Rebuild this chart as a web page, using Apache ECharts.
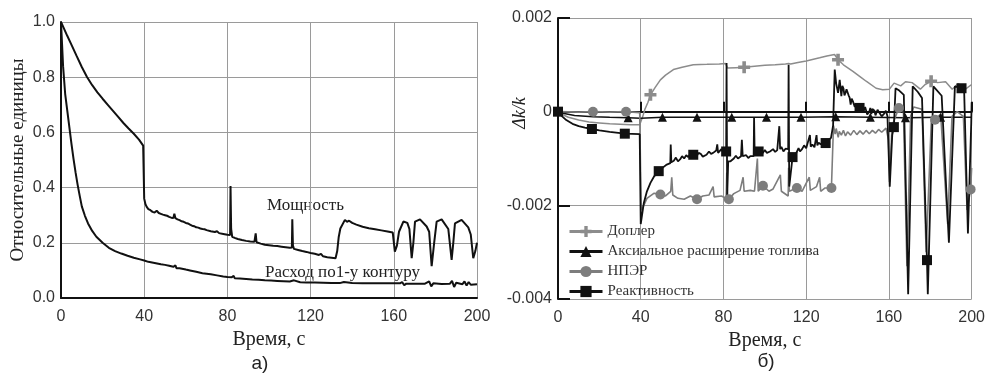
<!DOCTYPE html>
<html><head><meta charset="utf-8">
<script src="https://cdn.jsdelivr.net/npm/echarts@6/dist/echarts.min.js"></script>
<style>html,body{margin:0;padding:0;background:#fff}#c{width:988px;height:376px}</style>
</head><body><div id="c"></div>
<script>
// ---------- Panel a) ----------
const powerData = [[0,1.0],[1.5,0.975],[3,0.95],[5,0.918],[7.5,0.877],[10,0.837],[12.5,0.801],[15,0.771],[17.5,0.745],[20,0.722],[22.5,0.7],[25,0.678],[27.5,0.656],[30,0.634],[32.5,0.614],[35,0.595],[37.5,0.574],[39.5,0.552],
[40,0.36],[40.6,0.34],[41.2,0.33],[42,0.322],[43,0.318],[44,0.312],[45,0.31],[46,0.316],[47,0.308],[48,0.305],[49,0.302],[50,0.3],[51,0.298],[52,0.294],[53,0.291],[54,0.29],[54.5,0.305],[55,0.289],[56,0.285],[57,0.282],[58,0.278],[59,0.276],[60,0.272],[61,0.27],[62,0.266],[63,0.262],[64,0.26],[65,0.256],[66,0.255],[67,0.252],[68,0.25],[69,0.249],[70,0.246],[72,0.242],[74,0.239],[75,0.242],[76,0.235],[78,0.232],[80,0.229],[81.3,0.228],[81.5,0.406],[81.8,0.25],[82.3,0.222],[83.5,0.218],[85,0.214],[87,0.21],[89,0.207],[91,0.205],[93,0.204],[93.6,0.234],[94,0.202],[96,0.197],[98,0.193],[100,0.191],[102,0.189],[104,0.188],[106,0.186],[108,0.184],[110,0.182],[111,0.183],[111.2,0.285],[111.5,0.19],[112,0.178],[114,0.174],[116,0.17],[118,0.167],[120,0.163],[122,0.16],[124,0.156],[125,0.16],[126,0.151],[128,0.148],[130,0.146],[132,0.144],[132.8,0.17],[133.5,0.22],[134.3,0.252],[135,0.258],[136.5,0.283],[137.5,0.276],[138.5,0.28],[140,0.272],[142,0.266],[145,0.258],[148,0.253],[151,0.249],[154,0.245],[157,0.241],[159.5,0.237],[160.5,0.168],[161.5,0.19],[162.5,0.24],[164.6,0.277],[166.5,0.272],[167.5,0.25],[168.6,0.144],[169.4,0.2],[170.2,0.277],[172.6,0.285],[175.8,0.259],[177,0.24],[178.2,0.115],[179.4,0.2],[180.6,0.277],[183,0.285],[186.2,0.25],[187.8,0.138],[188.6,0.2],[189.4,0.27],[192.6,0.283],[195.8,0.256],[197,0.23],[198.2,0.144],[199.2,0.17],[200,0.2]];

const flowData = [[0,1.0],[0.5,0.92],[1,0.84],[2,0.74],[3,0.68],[4,0.62],[5,0.56],[6,0.505],[7,0.455],[8,0.41],[9,0.37],[10,0.332],[11.5,0.298],[13,0.27],[15,0.243],[17,0.222],[20,0.2],[23,0.182],[26,0.17],[29,0.161],[32,0.153],[35,0.146],[38,0.14],[40,0.136],[42,0.131],[45,0.127],[48,0.122],[50,0.12],[52,0.117],[54,0.113],[55,0.118],[55.5,0.108],[57,0.108],[60,0.103],[62,0.1],[65,0.095],[68,0.09],[70,0.088],[72,0.086],[75,0.082],[78,0.078],[80,0.076],[82,0.075],[83,0.08],[83.5,0.072],[86,0.071],[89,0.069],[92,0.067],[95,0.066],[98,0.064],[101,0.063],[104,0.062],[107,0.061],[110,0.06],[112,0.064],[112.5,0.058],[115,0.057],[118,0.056],[122,0.056],[126,0.055],[130,0.054],[134,0.054],[136,0.058],[136.5,0.053],[140,0.054],[145,0.053],[150,0.053],[155,0.053],[160,0.053],[163,0.053],[164,0.058],[165,0.046],[166,0.052],[170,0.052],[175,0.052],[177,0.06],[178,0.042],[179,0.053],[183,0.051],[187,0.052],[188,0.062],[189,0.04],[190,0.055],[193,0.05],[194,0.06],[195,0.045],[196,0.058],[197,0.048],[200,0.05]];

// ---------- Panel б) ----------
const dopplerData = [[0,0],[2,-0.00006],[5,-0.00012],[10,-0.00018],[15,-0.00022],[20,-0.00024],[25,-0.00026],[30,-0.00027],[35,-0.00028],[39.5,-0.00028],[41,-0.0001],[42,0.00005],[43.5,0.0002],[44.7,0.00036],[47,0.00052],[49.5,0.00068],[52,0.00078],[55.8,0.0009],[60,0.00095],[65.4,0.001],[72,0.00101],[78,0.00102],[81,0.00103],[82,0.00093],[86,0.00094],[90,0.00095],[95,0.00097],[100,0.00099],[105,0.001],[110,0.00102],[111.5,0.00103],[112.5,0.00102],[116,0.00105],[120,0.00108],[126.5,0.00115],[130,0.00119],[133.7,0.00122],[135.4,0.00111],[138,0.001],[142.6,0.00086],[146,0.00075],[149,0.00065],[153.8,0.0005],[157,0.00047],[160.2,0.00048],[162.5,0.00061],[165.7,0.00055],[168,0.00064],[171.2,0.00062],[175.2,0.00048],[177.5,0.00058],[180.4,0.00065],[183.5,0.00062],[187.4,0.00064],[190.6,0.00048],[193.5,0.0006],[197,0.00048],[200,0.00058]];

const axialData = [[0,0],[3,-0.00004],[8,-0.00008],[16.9,-0.00011],[25,-0.00012],[33.9,-0.00013],[40,-0.00014],[50.5,-0.00012],[67.2,-0.00012],[84,-0.00012],[100.8,-0.00012],[117.5,-0.00012],[134.3,-0.00011],[151,-0.00012],[168,-0.00013],[185,-0.00012],[200,-0.00012]];

const nperData = [[0,0],[10,-0.00001],[16.9,0],[25,-0.00001],[32.9,0],[39.5,-0.00002],[40.2,-0.0021],[41.5,-0.002],[43,-0.00185],[46.5,-0.00174],[49.5,-0.00177],[52,-0.0018],[54.5,-0.0017],[55,-0.0014],[55.5,-0.00178],[58,-0.00185],[61,-0.00187],[64,-0.0018],[67.2,-0.00187],[70,-0.0018],[73,-0.00178],[75,-0.0016],[75.5,-0.00182],[79,-0.0018],[81.3,-0.00185],[81.6,-0.0013],[82,-0.0019],[82.6,-0.00187],[85,-0.00175],[88,-0.00168],[89.5,-0.0014],[90,-0.0017],[93,-0.00168],[95,-0.0017],[96.4,-0.001],[96.8,-0.0017],[99.1,-0.00158],[102,-0.0017],[104,-0.00165],[107.5,-0.00135],[108,-0.0017],[111.3,-0.0018],[111.5,-0.0012],[111.8,-0.0017],[115.5,-0.00163],[118,-0.0017],[121.5,-0.0014],[122,-0.00168],[125,-0.0016],[126.5,-0.0014],[127,-0.0017],[129,-0.00163],[132.2,-0.00163],[133.2,-0.0003],[134,-0.00048],[134.5,-0.00036],[135.5,-0.00055],[136,-0.00042],[137,-0.0005],[138,-0.0004],[139,-0.00052],[140,-0.00043],[141.5,-0.0005],[143,-0.0004],[144.5,-0.00049],[146,-0.00041],[147.5,-0.00048],[149,-0.0004],[150.5,-0.00047],[152,-0.0004],[153.5,-0.00046],[155,-0.00038],[156.5,-0.00044],[158.6,-0.00035],[159.8,-0.0006],[160.3,-0.0015],[161.5,-0.0003],[164.8,0.00008],[167,0.00002],[168.7,-0.0033],[170.5,-0.0001],[172,0.0001],[176,0.00005],[178,-0.003],[180.5,-0.0002],[182.3,-0.00017],[185,-0.00005],[188.4,-0.0024],[190.5,-0.0001],[193,0],[196,-0.0001],[197.8,-0.0021],[199.5,-0.00166],[200,-0.0012]];

const reactData = [[0,0],[2,-0.0001],[4,-0.00018],[7,-0.00026],[10,-0.00031],[13,-0.00034],[16.4,-0.00037],[20,-0.0004],[25,-0.00043],[32.3,-0.00047],[39.5,-0.00048],[40,-0.0024],[41.5,-0.00195],[43,-0.0017],[44.7,-0.00152],[46.5,-0.00138],[48.7,-0.00127],[50.5,-0.0012],[52.6,-0.00113],[54.3,-0.0011],[54.5,-0.0007],[54.8,-0.00108],[56,-0.00105],[57,-0.00098],[58,-0.00106],[59,-0.00102],[60,-0.00095],[61,-0.001],[62,-0.00093],[63,-0.00097],[64,-0.0009],[65.4,-0.00092],[67,-0.00095],[68,-0.00088],[69,-0.0009],[70,-0.00096],[71.8,-0.00092],[73,-0.00085],[74,-0.0009],[75,-0.00088],[76.5,-0.00083],[77,-0.0007],[77.4,-0.00088],[78,-0.00086],[79,-0.0008],[80,-0.00088],[81.3,-0.00085],[81.5,0.00104],[81.8,-0.0018],[82.3,-0.00106],[83.4,-0.00106],[85,-0.001],[86,-0.00094],[87,-0.001],[88.5,-0.00095],[88.9,-0.0006],[89.3,-0.00095],[91,-0.00093],[92,-0.00099],[93,-0.00095],[94.6,-0.00095],[94.8,-0.00013],[95.1,-0.00092],[96,-0.00088],[97,-0.00085],[98,-0.00092],[99,-0.00088],[100,-0.00082],[101,-0.00088],[102.5,-0.00085],[104,-0.0008],[105,-0.00086],[106,-0.00082],[107,-0.00031],[107.4,-0.0008],[108,-0.00075],[109,-0.00085],[110,-0.00079],[111.3,-0.0008],[111.5,0.001],[111.8,-0.0016],[113.4,-0.00097],[115,-0.0009],[116.3,-0.00078],[117,-0.00085],[118,-0.0008],[119,-0.00072],[120,-0.00078],[121.8,-0.0005],[122.2,-0.00075],[123,-0.0007],[124,-0.00076],[125,-0.0005],[125.4,-0.00072],[126,-0.00066],[127,-0.0007],[128,-0.00064],[129.4,-0.00067],[131,-0.0006],[132,-0.00056],[133,-0.0003],[133.8,0.0009],[134.5,0.0006],[135.4,0.0004],[136.2,0.00068],[137,0.00033],[137.5,0.00055],[138,0.0005],[138.5,0.00035],[139,0.0004],[139.5,0.00048],[140.5,0.00035],[141,0.0003],[141.5,0.00015],[142,0.00028],[142.6,0.00022],[143,0.00025],[143.5,0.0001],[144,0.00018],[145,0.00005],[145.8,0.00008],[146.5,0.00015],[147,0.00012],[147.5,-0.00002],[148,0.00004],[148.5,0.0001],[149,0.00008],[149.5,-0.00006],[150.5,0],[151,0.00008],[151.5,-0.00005],[152,0.00006],[153,0.00002],[153.5,-0.00008],[154,-0.00006],[154.5,0.00004],[155.3,-0.00002],[156,0.00002],[156.5,-0.0001],[157,-0.00008],[157.7,-0.00004],[158.5,0.00002],[159.3,-0.0001],[160.4,-0.0016],[161.6,-0.0005],[162.4,-0.00033],[163.2,0.0005],[165,0.00045],[167.2,0.00036],[169.3,-0.0039],[171.5,0.00054],[174,0.00042],[176,0.00029],[178.4,-0.00317],[178.8,-0.0039],[181.5,0.00054],[185.5,0.00034],[189,-0.0028],[191.9,0.00054],[195.1,0.0005],[196.4,0.0004],[198.2,-0.0026],[199.8,-0.00024],[200,0.0002]];

const dopplerMarks = [44.7, 90, 135.4, 180.4];
const axialMarks = [33.9, 50.5, 67.2, 84, 100.8, 117.5, 134.3, 151, 168, 185];
const nperMarks = [16.9, 32.9, 49.5, 67.2, 82.6, 99.1, 115.5, 132.2, 164.8, 182.3, 199.5];
const reactMarks = [0, 16.4, 32.3, 48.7, 65.4, 81.3, 97, 113.4, 129.4, 145.8, 162.4, 178.4, 195.1];

const seriesNames = ['Доплер', 'Аксиальное расширение топлива', 'НПЭР', 'Реактивность'];

const SANS = 'Liberation Sans';
const SERIF = 'Liberation Serif';
const GRIDC = '#9a9a9a';

function markSize(marks, size) {
  return function (val) { return marks.indexOf(val[0]) >= 0 ? size : 0; };
}

const chart = echarts.init(document.getElementById('c'), null, {renderer: 'canvas'});
chart.setOption({
  animation: false,
  backgroundColor: '#fff',
  grid: [
    {left: 61, right: 511, top: 22, bottom: 78},
    {left: 558, right: 11, top: 18, bottom: 77}
  ],
  xAxis: [
    {gridIndex: 0, type: 'value', min: 0, max: 200, interval: 40,
     axisLine: {lineStyle: {color: '#111', width: 2}},
     axisTick: {show: false},
     axisLabel: {fontFamily: SANS, fontSize: 16, color: '#333', margin: 11},
     splitLine: {show: true, lineStyle: {color: GRIDC, width: 1}},
     name: 'Время, с', nameLocation: 'middle', nameGap: 30,
     nameTextStyle: {fontFamily: SERIF, fontSize: 20, color: '#222'}},
    {gridIndex: 1, type: 'value', min: 0, max: 200, interval: 40,
     axisLine: {lineStyle: {color: '#111', width: 2}},
     axisTick: {show: true, inside: true, length: 10, lineStyle: {color: '#111', width: 2}},
     axisLabel: {fontFamily: SANS, fontSize: 16, color: '#333', margin: 11},
     splitLine: {show: true, lineStyle: {color: GRIDC, width: 1}},
     name: 'Время, с', nameLocation: 'middle', nameGap: 30,
     nameTextStyle: {fontFamily: SERIF, fontSize: 20, color: '#222'}}
  ],
  yAxis: [
    {gridIndex: 0, type: 'value', min: 0, max: 1.0, interval: 0.2,
     axisLine: {show: true, lineStyle: {color: '#111', width: 2}},
     axisTick: {show: false},
     axisLabel: {fontFamily: SANS, fontSize: 16, color: '#333', margin: 6,
                 formatter: function (v) { return v.toFixed(1); }},
     splitLine: {show: true, lineStyle: {color: GRIDC, width: 1}},
     name: 'Относительные единицы', nameLocation: 'middle', nameGap: 33,
     nameTextStyle: {fontFamily: SERIF, fontSize: 19, color: '#222'}},
    {gridIndex: 1, type: 'value', min: -0.004, max: 0.002, interval: 0.002,
     axisLine: {show: true, lineStyle: {color: '#111', width: 2}},
     axisTick: {show: true, inside: true, length: 12, lineStyle: {color: '#111', width: 2}},
     axisLabel: {fontFamily: SANS, fontSize: 16, color: '#333', margin: 6,
                 formatter: function (v) { return Math.abs(v) < 1e-9 ? '0' : v.toFixed(3); }},
     splitLine: {show: true, lineStyle: {color: GRIDC, width: 1}}}
  ],
  legend: {
    orient: 'vertical', left: 563, top: 219,
    itemWidth: 33, itemHeight: 14, itemGap: 5,
    lineStyle: {width: 3},
    textStyle: {fontFamily: SERIF, fontSize: 15, color: '#333'},
    data: seriesNames
  },
  series: [
    {name: 'Мощность', type: 'line', xAxisIndex: 0, yAxisIndex: 0, data: powerData,
     showSymbol: false, symbol: 'none', lineStyle: {color: '#111', width: 2}},
    {name: 'Расход по1-у контуру', type: 'line', xAxisIndex: 0, yAxisIndex: 0, data: flowData,
     showSymbol: false, symbol: 'none', lineStyle: {color: '#111', width: 2}},
    {name: seriesNames[0], type: 'line', xAxisIndex: 1, yAxisIndex: 1, data: dopplerData,
     symbol: 'path://M3.5,0H6.5V3.5H10V6.5H6.5V10H3.5V6.5H0V3.5H3.5Z', symbolSize: markSize(dopplerMarks, 12),
     itemStyle: {color: '#8c8c8c'}, lineStyle: {color: '#8c8c8c', width: 1.5}},
    {name: seriesNames[1], type: 'line', xAxisIndex: 1, yAxisIndex: 1, data: axialData,
     symbol: 'triangle', symbolSize: markSize(axialMarks, 9),
     itemStyle: {color: '#111'}, lineStyle: {color: '#111', width: 1.5}},
    {name: seriesNames[2], type: 'line', xAxisIndex: 1, yAxisIndex: 1, data: nperData,
     symbol: 'circle', symbolSize: markSize(nperMarks, 10),
     itemStyle: {color: '#7d7d7d'}, lineStyle: {color: '#7d7d7d', width: 1.6}},
    {name: seriesNames[3], type: 'line', xAxisIndex: 1, yAxisIndex: 1, data: reactData,
     symbol: 'rect', symbolSize: markSize(reactMarks, 10),
     itemStyle: {color: '#111'}, lineStyle: {color: '#111', width: 1.8}}
  ],
  graphic: [
    {type: 'text', x: 267, y: 206, style: {text: 'Мощность', font: '17px "Liberation Serif"', fill: '#222', verticalAlign: 'middle'}},
    {type: 'text', x: 265, y: 273, style: {text: 'Расход по1-у контуру', font: '17px "Liberation Serif"', fill: '#222', verticalAlign: 'middle'}},
    {type: 'text', x: 520, y: 113, rotation: Math.PI / 2, style: {text: 'Δk/k', font: 'italic 18px "Liberation Serif"', fill: '#222', align: 'center', verticalAlign: 'middle'}},
    {type: 'text', x: 260, y: 364, style: {text: 'а)', font: '19px "Liberation Sans"', fill: '#222', align: 'center', verticalAlign: 'middle'}},
    {type: 'text', x: 766, y: 362, style: {text: 'б)', font: '19px "Liberation Sans"', fill: '#222', align: 'center', verticalAlign: 'middle'}}
  ]
});
</script></body></html>
